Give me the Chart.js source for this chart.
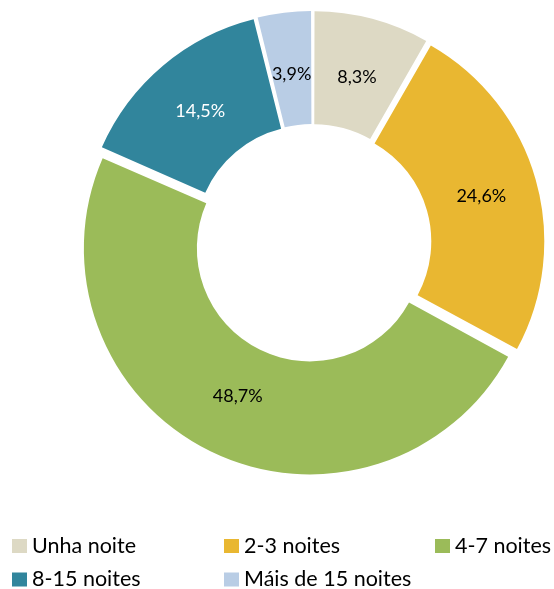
<!DOCTYPE html>
<html>
<head>
<meta charset="utf-8">
<script src="https://cdn.jsdelivr.net/npm/chart.js@4/dist/chart.umd.min.js"></script>
<style>
html,body{margin:0;padding:0;background:#fff;}
#c{display:block;}
</style>
</head>
<body>
<canvas id="c" width="554" height="589"></canvas>
<script>
const categories = ["Unha noite", "2-3 noites", "4-7 noites", "8-15 noites", "Máis de 15 noites"];
const shares = [8.3, 24.6, 48.7, 14.5, 3.9];
const valueLabels = ["8,3%", "24,6%", "48,7%", "14,5%", "3,9%"];
const colors = ["#DDD9C4", "#E9B731", "#9BBB59", "#31859C", "#B9CDE5"];
const labelColors = ["#000000", "#000000", "#000000", "#FFFFFF", "#000000"];

const EXPLODE = 6; // px radial shift of each slice

// Chart.js divides arc offset by 4 and also grows radii by offset*fix; undo the radius growth
const radiusFix = {
  id: 'radiusFix',
  afterDatasetsUpdate(chart) {
    const meta = chart.getDatasetMeta(0);
    meta.data.forEach(arc => {
      const circ = arc.circumference;
      const fix = 1 - Math.sin(Math.min(Math.PI, circ || 0));
      const ro = EXPLODE * fix;
      arc.outerRadius -= ro;
      arc.innerRadius -= ro;
    });
  }
};

const sliceLabels = {
  id: 'sliceLabels',
  afterDatasetsDraw(chart) {
    const ctx = chart.ctx;
    const meta = chart.getDatasetMeta(0);
    ctx.save();
    ctx.font = '18px Lato';
    ctx.textAlign = 'center';
    ctx.textBaseline = 'middle';
    meta.data.forEach((arc, i) => {
      const mid = (arc.startAngle + arc.endAngle) / 2;
      const r = (arc.innerRadius + arc.outerRadius) / 2 + EXPLODE;
      const x = arc.x + Math.cos(mid) * r;
      const y = arc.y + Math.sin(mid) * r + 1;
      ctx.fillStyle = labelColors[i];
      ctx.fillText(valueLabels[i], x, y);
    });
    ctx.restore();
  }
};

const gridLegend = {
  id: 'gridLegend',
  afterDraw(chart) {
    const ctx = chart.ctx;
    const cols = [12, 224, 435];
    const rows = [552.5, 586];
    ctx.save();
    ctx.font = '21.5px Lato';
    ctx.textAlign = 'left';
    ctx.textBaseline = 'alphabetic';
    categories.forEach((name, i) => {
      const cx = cols[i % 3];
      const by = rows[Math.floor(i / 3)];
      ctx.fillStyle = colors[i];
      ctx.fillRect(cx, by - 13.5, 15, 14);
      ctx.fillStyle = '#000';
      ctx.fillText(name, cx + 20, by);
    });
    ctx.restore();
  }
};

new Chart(document.getElementById('c'), {
  type: 'doughnut',
  data: {
    labels: categories,
    datasets: [{
      data: shares,
      backgroundColor: colors,
      borderWidth: 0,
      offset: EXPLODE * 4
    }]
  },
  options: {
    responsive: false,
    animation: false,
    devicePixelRatio: 1,
    radius: 226,
    cutout: '50%',
    layout: { padding: { left: 71, right: 0, top: 14, bottom: 117 } },
    plugins: {
      legend: { display: false },
      tooltip: { enabled: false }
    }
  },
  plugins: [radiusFix, sliceLabels, gridLegend]
});
</script>
</body>
</html>
